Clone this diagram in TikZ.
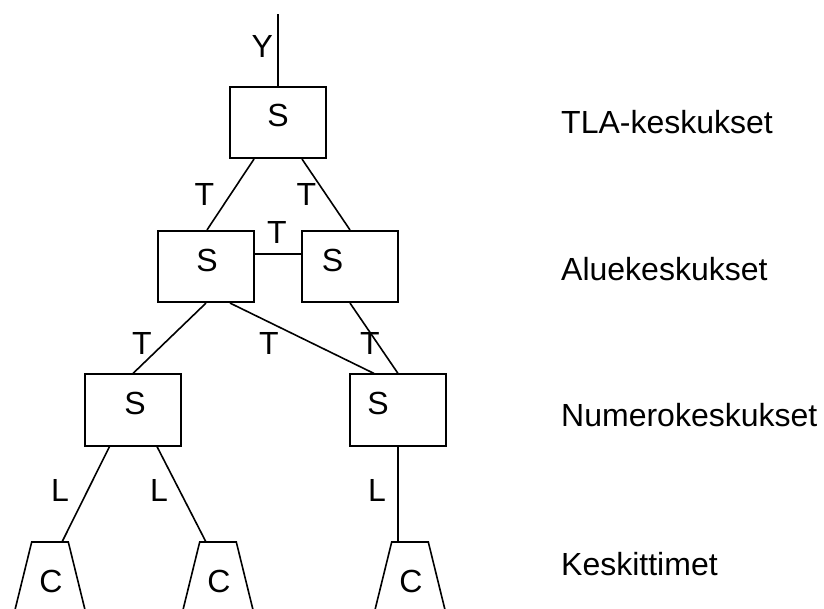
\documentclass[tikz,border=0pt]{standalone}
\usepackage{fontspec}
\setmainfont{Liberation Sans}
\begin{document}
\begin{tikzpicture}[x=1pt,y=-1pt,
  every node/.style={font=\fontsize{32}{38}\selectfont, inner sep=0pt},
  sbox/.style={draw, line width=1.6pt, minimum width=96pt, minimum height=71.5pt},
  conn/.style={line width=1.6pt},
  lbl/.style={anchor=center},
  side/.style={anchor=base west}]
\useasboundingbox (0,0) rectangle (824,608);
% boxes
\node[sbox] (top) at (278,122.5) {};
\node[sbox] (a2) at (206,266.5) {};
\node[sbox] (b2) at (350,266.5) {};
\node[sbox] (a3) at (133,410) {};
\node[sbox] (b3) at (398,410) {};
% concentrators (trapezoids, top centre coordinates)
\coordinate (c1) at (50,542);
\coordinate (c2) at (218,542);
\coordinate (c3) at (410,542);
\foreach \c in {c1,c2,c3}
  \draw[conn, line join=miter] (\c) ++(-38,80) -- ++(19.7,-80) -- ++(36.6,0) -- ++(19.7,80);
% box labels
\node[lbl] (ts) at (278,115) {S};
\node[lbl] (as) at (207,260) {S};
\node[lbl] (bs) at (332.5,260) {S};
\node[lbl] (a3s) at (135,403.5) {S};
\node[lbl] (b3s) at (378,403.5) {S};
\node[lbl] (c1s) at (51,581.5) {C};
\node[lbl] (c2s) at (219,581.5) {C};
\node[lbl] (c3s) at (411,581.5) {C};
% connectors
\coordinate (ytop) at (278,14);
\draw[conn] (ytop) -- (top.north);
\draw[conn] ([xshift=-24pt]top.south) -- ([xshift=1pt]a2.north);
\draw[conn] ([xshift=24pt]top.south) -- (b2.north);
\draw[conn] ([yshift=12.5pt]a2.east) -- ([yshift=12.5pt]b2.west);
\draw[conn] (a2.south) -- (a3.north);
\draw[conn] ([xshift=24pt]a2.south) -- ([xshift=-24pt]b3.north);
\draw[conn] (b2.south) -- (b3.north);
\draw[conn] ([xshift=-23.5pt]a3.south) -- ([xshift=12pt]c1);
\draw[conn] ([xshift=24pt]a3.south) -- ([xshift=-12pt]c2);
\draw[conn] (b3.south) -- ([xshift=-12pt]c3);
% connector labels
\node[lbl] (ly) at (262.4,46.5) {Y};
\node[lbl] (t1) at (204.5,194) {T};
\node[lbl] (t2) at (306.5,194) {T};
\node[lbl] (t3) at (277,232) {T};
\node[lbl] (t4) at (142,343) {T};
\node[lbl] (t5) at (269,343) {T};
\node[lbl] (t6) at (370,343) {T};
\node[lbl] (l1) at (60,490) {L};
\node[lbl] (l2) at (159,490) {L};
\node[lbl] (l3) at (377,490) {L};
% level names
\node[side] (n1) at (561,133) {TLA-keskukset};
\node[side] (n2) at (561,280) {Aluekeskukset};
\node[side] (n3) at (561,426) {Numerokeskukset};
\node[side] (n4) at (561,575) {Keskittimet};
\end{tikzpicture}
\end{document}
